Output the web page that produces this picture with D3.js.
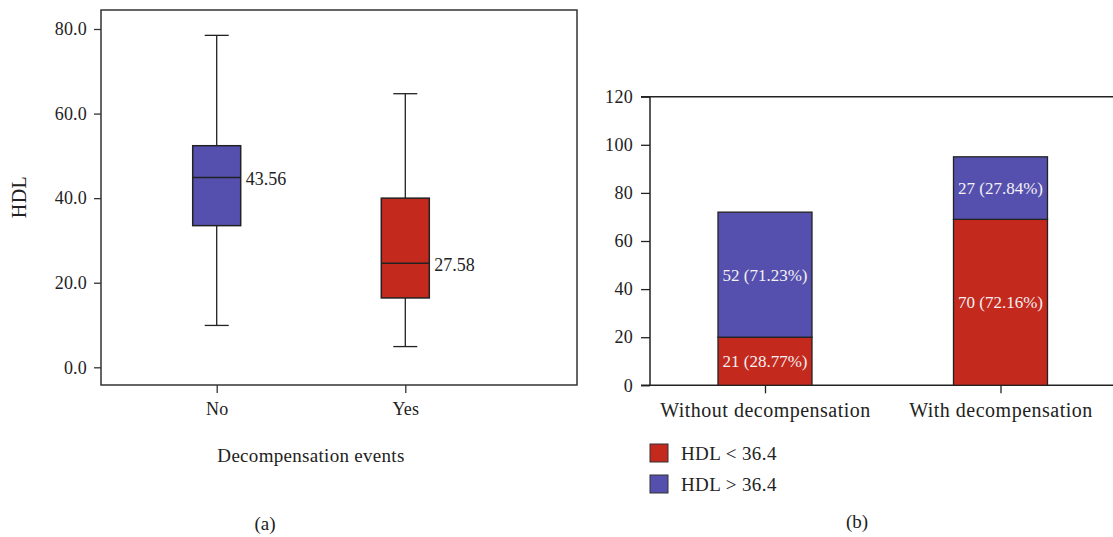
<!DOCTYPE html>
<html>
<head>
<meta charset="utf-8">
<script src="https://cdn.jsdelivr.net/npm/d3@7"></script>
<style>
  body { margin: 0; background: #fff; }
  svg { display: block; font-family: "Liberation Serif", "DejaVu Serif", serif; }
</style>
</head>
<body>
<div class="mainContent"></div>
<script>
const w = 1113;
const h = 537;

// panel (a) data: box plot of HDL by decompensation events
const groups = ['No', 'Yes'];
const whiskerLow = [9.9, 4.9];
const q1 = [33.5, 16.4];
const medians = [44.9, 24.6];
const q3 = [52.4, 40.0];
const whiskerHigh = [78.5, 64.7];
const meanLabels = ['43.56', '27.58'];
const boxTicks = [0, 20, 40, 60, 80];

// panel (b) data: stacked bars
const barCats = ['Without decompensation', 'With decompensation'];
const lowVals = [20, 69];    // HDL < 36.4
const highVals = [52, 26];   // HDL > 36.4
const lowLabels = ['21 (28.77%)', '70 (72.16%)'];
const highLabels = ['52 (71.23%)', '27 (27.84%)'];
const barTicks = [0, 20, 40, 60, 80, 100, 120];
const legendNames = ['HDL < 36.4', 'HDL > 36.4'];

const blue = '#5550ad';
const red = '#c4291d';
const ink = '#222';

const svg = d3.select('.mainContent')
    .append('svg')
    .attr('width', w)
    .attr('height', h);

// ---------- panel (a) ----------
const ay = d3.scaleLinear().domain([0, 80]).range([367.3, 29]);
const ax = d3.scalePoint().domain(groups).range([216.7, 405.3]);
const boxW = 48;
const capW = 24;

// frame
svg.append('rect')
    .attr('x', 101).attr('y', 10)
    .attr('width', 476).attr('height', 375)
    .attr('fill', 'none').attr('stroke', '#333').attr('stroke-width', 1.5);

const ayAxis = svg.append('g')
    .attr('transform', 'translate(101,0)')
    .call(d3.axisLeft(ay).tickValues(boxTicks).tickFormat(d3.format('.1f')).tickSize(7).tickPadding(7));
ayAxis.select('.domain').remove();

const axAxis = svg.append('g')
    .attr('transform', 'translate(0,385)')
    .call(d3.axisBottom(ax).tickSize(8).tickPadding(9));
axAxis.select('.domain').remove();

svg.selectAll('.tick line').attr('stroke', '#333').attr('stroke-width', 1.3);
svg.selectAll('.tick text').attr('font-size', 18).attr('fill', ink)
    .attr('font-family', 'Liberation Serif').attr('letter-spacing', 0.2);

const boxes = svg.append('g').selectAll('g')
    .data(groups)
    .enter()
    .append('g');

boxes.append('line')
    .attr('x1', d => ax(d)).attr('x2', d => ax(d))
    .attr('y1', (d, i) => ay(whiskerHigh[i]))
    .attr('y2', (d, i) => ay(whiskerLow[i]))
    .attr('stroke', ink).attr('stroke-width', 1.3);
boxes.append('line')
    .attr('x1', d => ax(d) - capW / 2).attr('x2', d => ax(d) + capW / 2)
    .attr('y1', (d, i) => ay(whiskerHigh[i])).attr('y2', (d, i) => ay(whiskerHigh[i]))
    .attr('stroke', ink).attr('stroke-width', 1.3);
boxes.append('line')
    .attr('x1', d => ax(d) - capW / 2).attr('x2', d => ax(d) + capW / 2)
    .attr('y1', (d, i) => ay(whiskerLow[i])).attr('y2', (d, i) => ay(whiskerLow[i]))
    .attr('stroke', ink).attr('stroke-width', 1.3);
boxes.append('rect')
    .attr('x', d => ax(d) - boxW / 2)
    .attr('y', (d, i) => ay(q3[i]))
    .attr('width', boxW)
    .attr('height', (d, i) => ay(q1[i]) - ay(q3[i]))
    .attr('fill', (d, i) => i === 0 ? blue : red)
    .attr('stroke', ink).attr('stroke-width', 1.5);
boxes.append('line')
    .attr('x1', d => ax(d) - boxW / 2).attr('x2', d => ax(d) + boxW / 2)
    .attr('y1', (d, i) => ay(medians[i])).attr('y2', (d, i) => ay(medians[i]))
    .attr('stroke', ink).attr('stroke-width', 1.5);
boxes.append('text')
    .attr('x', d => ax(d) + boxW / 2 + 5)
    .attr('y', (d, i) => ay(medians[i]) + 8)
    .attr('font-size', 18).attr('fill', ink)
    .text((d, i) => meanLabels[i]);

svg.append('text')
    .attr('transform', 'translate(26,197) rotate(-90)')
    .attr('text-anchor', 'middle')
    .attr('font-size', 20).attr('letter-spacing', 0.5).attr('fill', ink)
    .text('HDL');

svg.append('text')
    .attr('x', 311).attr('y', 462)
    .attr('text-anchor', 'middle')
    .attr('font-size', 19).attr('letter-spacing', 0.3).attr('fill', ink)
    .text('Decompensation events');

svg.append('text')
    .attr('x', 265).attr('y', 530)
    .attr('text-anchor', 'middle')
    .attr('font-size', 19).attr('fill', ink)
    .text('(a)');

// ---------- panel (b) ----------
const by = d3.scaleLinear().domain([0, 120]).range([385.3, 96.7]);
const bx = d3.scalePoint().domain(barCats).range([765, 1000.5]);
const barW = 94;

const byAxis = svg.append('g')
    .attr('transform', 'translate(650,0)')
    .call(d3.axisLeft(by).tickValues(barTicks).tickSize(9).tickPadding(8));
byAxis.select('.domain').attr('d', `M0,${by(0)}V${by(120)}`).attr('stroke', ink).attr('stroke-width', 1.5);

const bxAxis = svg.append('g')
    .attr('transform', `translate(0,${by(0)})`)
    .call(d3.axisBottom(bx).tickSize(8).tickPadding(10));
bxAxis.select('.domain').remove();

// top and bottom lines of panel (b)
svg.append('line')
    .attr('x1', 641).attr('x2', w).attr('y1', by(120)).attr('y2', by(120))
    .attr('stroke', ink).attr('stroke-width', 1.5);
svg.append('line')
    .attr('x1', 641).attr('x2', w).attr('y1', by(0)).attr('y2', by(0))
    .attr('stroke', ink).attr('stroke-width', 1.5);

byAxis.selectAll('.tick line').attr('stroke', ink).attr('stroke-width', 1.3);
bxAxis.selectAll('.tick line').attr('stroke', ink).attr('stroke-width', 1.3);
byAxis.selectAll('.tick text').attr('font-size', 18).attr('fill', ink)
    .attr('font-family', 'Liberation Serif').attr('letter-spacing', 0.3);
bxAxis.selectAll('.tick text').attr('font-size', 20).attr('fill', ink)
    .attr('font-family', 'Liberation Serif').attr('letter-spacing', 0.5);

const bars = svg.append('g').selectAll('g')
    .data(barCats)
    .enter()
    .append('g');

bars.append('rect')
    .attr('x', d => bx(d) - barW / 2)
    .attr('y', (d, i) => by(lowVals[i]))
    .attr('width', barW)
    .attr('height', (d, i) => by(0) - by(lowVals[i]))
    .attr('fill', red).attr('stroke', ink).attr('stroke-width', 1.3);
bars.append('rect')
    .attr('x', d => bx(d) - barW / 2)
    .attr('y', (d, i) => by(lowVals[i] + highVals[i]))
    .attr('width', barW)
    .attr('height', (d, i) => by(lowVals[i]) - by(lowVals[i] + highVals[i]))
    .attr('fill', blue).attr('stroke', ink).attr('stroke-width', 1.3);
bars.append('text')
    .attr('x', d => bx(d))
    .attr('y', (d, i) => by(lowVals[i] / 2) + 6)
    .attr('text-anchor', 'middle')
    .attr('font-size', 17).attr('fill', '#f4f0f4')
    .text((d, i) => lowLabels[i]);
bars.append('text')
    .attr('x', d => bx(d))
    .attr('y', (d, i) => by(lowVals[i] + highVals[i] / 2) + 6)
    .attr('text-anchor', 'middle')
    .attr('font-size', 17).attr('fill', '#f4f0f4')
    .text((d, i) => highLabels[i]);

const legend = svg.append('g').selectAll('g')
    .data(legendNames)
    .enter()
    .append('g')
    .attr('transform', (d, i) => `translate(650,${444 + i * 31})`);
legend.append('rect')
    .attr('width', 18).attr('height', 18)
    .attr('fill', (d, i) => i === 0 ? red : blue)
    .attr('stroke', '#333').attr('stroke-width', 1);
legend.append('text')
    .attr('x', 31).attr('y', 16)
    .attr('font-size', 19).attr('letter-spacing', 0.4).attr('fill', ink)
    .text(d => d);

svg.append('text')
    .attr('x', 857).attr('y', 528)
    .attr('text-anchor', 'middle')
    .attr('font-size', 19).attr('fill', ink)
    .text('(b)');
</script>
</body>
</html>
